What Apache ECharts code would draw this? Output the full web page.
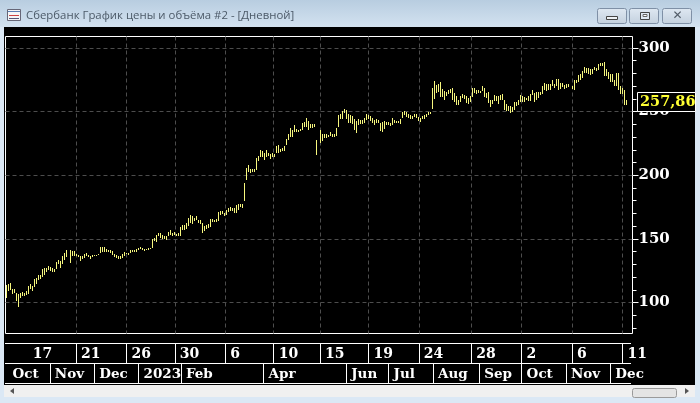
<!DOCTYPE html>
<html>
<head>
<meta charset="utf-8">
<style>html,body{margin:0;padding:0;background:#dbe8f5}#chart{width:700px;height:403px}</style>
<script src="https://cdn.jsdelivr.net/npm/echarts@6/dist/echarts.min.js"></script>
</head>
<body>
<div id="chart"></div>
<script>
// daily high / low
var highs = [113.8,114.3,115.1,110.6,110.6,107.7,106.6,107.7,108.2,107.9,109.0,113.0,114.6,113.2,118.3,119.6,121.4,121.7,126.2,127.2,127.5,128.6,128.3,127.5,126.7,132.0,133.3,132.3,136.8,138.9,141.5,141.5,140.2,140.7,138.1,137.6,136.8,136.8,138.4,138.9,137.6,136.8,137.3,137.3,137.6,137.8,143.4,143.7,143.9,142.1,141.5,141.5,140.2,138.4,137.0,136.2,136.2,138.4,139.7,138.9,138.9,141.5,141.5,141.0,142.3,142.6,143.9,142.9,142.1,142.1,142.9,142.6,150.0,150.8,153.4,154.8,154.8,153.4,152.6,152.6,155.3,156.9,
  154.7,155.2,154.2,154.7,159.4,160.7,161.2,162.5,166.4,169.0,167.7,166.4,167.7,165.1,164.6,162.5,160.4,161.2,161.5,165.9,165.6,165.1,165.6,170.8,171.6,171.6,170.3,172.9,174.2,175.0,174.2,174.2,176.8,177.6,177.6,177.3,
  193.8,205.5,208.1,204.9,204.9,204.7,213.3,215.1,219.8,219.0,217.7,219.8,217.2,216.4,217.2,216.7,222.9,223.7,220.3,221.1,222.9,228.1,232.8,237.5,235.9,239.3,236.7,235.9,236.2,241.1,241.9,245.3,242.7,240.1,240.6,240.1,227.6,235.4,232.8,232.3,232.8,231.5,234.1,232.8,232.8,237.5,247.1,247.9,250.3,
  252.3,251.0,247.9,247.1,246.4,244.5,242.4,244.5,243.8,243.2,245.3,247.9,247.1,246.9,245.3,243.2,244.0,243.2,241.1,241.7,242.7,242.2,241.7,241.1,244.8,243.8,242.7,242.7,244.3,249.5,250.3,249.7,248.4,247.1,246.4,247.9,248.4,245.8,245.3,246.4,247.4,248.4,249.5,249.5,
  268.2,273.7,270.6,271.4,272.9,268.0,266.1,265.4,267.2,268.0,268.8,264.6,262.0,259.4,262.0,263.5,262.8,262.0,260.9,262.0,268.2,268.2,267.2,266.7,266.1,269.8,268.2,264.8,265.1,259.4,
  258.9,262.8,262.5,262.2,262.8,263.5,259.4,255.7,254.2,254.2,253.6,257.6,257.6,258.9,262.8,262.0,261.5,260.4,262.0,263.5,266.7,264.6,265.4,265.1,265.4,269.8,272.4,271.9,271.4,271.4,274.5,271.9,275.8,275.8,272.4,272.4,270.6,271.4,271.4,269.8,274.5,275.0,278.4,279.2,281.8,285.4,284.1,283.9,283.6,283.6,284.9,284.4,287.2,288.0,288.0,289.3,283.3,281.3,279.2,279.2,275.0,280.2,280.2,269.8,268.8,266.7,259.4];
var lows = [103.7,108.5,109.8,106.6,107.1,101.1,96.6,104.0,105.0,105.3,105.6,106.6,110.3,109.3,111.9,115.1,117.7,118.3,119.6,121.7,124.3,125.7,125.1,124.1,124.1,126.5,130.4,127.0,130.4,133.6,135.7,131.0,136.2,136.8,136.2,135.7,133.1,134.1,134.9,136.2,135.7,134.7,135.7,136.2,136.5,136.8,138.9,139.4,140.2,139.7,140.2,138.9,136.8,135.7,134.7,134.1,133.9,134.9,136.8,137.8,137.6,138.9,139.9,139.4,140.2,140.7,142.3,141.5,140.7,141.3,141.5,141.8,142.9,148.1,148.1,152.1,150.8,150.3,150.0,149.5,152.1,152.9,
  152.1,152.6,152.6,152.1,152.6,156.8,157.3,157.8,159.9,162.5,161.2,163.8,164.6,162.5,161.2,154.7,156.8,157.8,158.6,159.9,163.3,163.5,163.3,163.8,168.2,169.0,167.7,169.0,170.8,171.6,171.6,170.3,170.3,172.9,175.0,173.9,
  179.4,195.8,202.3,202.1,202.3,202.6,204.2,211.5,214.6,214.1,212.5,214.6,214.6,212.5,214.1,214.1,217.2,217.7,218.0,218.5,219.3,223.7,228.1,230.2,230.2,234.1,234.6,234.6,234.9,235.4,238.0,238.0,235.4,236.7,237.5,238.0,215.9,225.0,227.1,228.9,229.7,229.7,230.7,230.2,230.7,231.5,237.5,244.0,244.0,
  249.0,243.8,240.6,241.1,240.1,235.9,233.3,240.1,240.6,240.1,241.7,243.2,243.8,243.2,241.1,239.6,241.1,240.6,234.9,233.9,236.5,239.6,239.6,238.5,239.1,241.1,241.1,241.1,240.6,244.8,246.9,245.8,245.3,244.3,243.8,245.3,245.3,242.7,242.2,243.8,244.3,245.8,247.4,247.9,
  251.8,259.4,264.1,265.4,261.5,261.5,258.9,262.0,264.1,264.6,259.4,257.6,254.9,255.7,257.6,260.2,259.4,256.8,256.3,257.6,261.5,264.1,264.1,264.1,264.6,266.1,261.5,260.9,256.3,253.6,
  255.7,258.3,258.9,255.7,258.9,258.9,251.6,250.5,250.0,249.0,250.0,251.0,254.2,254.9,257.6,257.6,257.6,258.9,258.3,258.3,262.8,257.6,258.9,260.2,262.8,263.5,267.2,266.7,266.7,266.7,269.8,268.8,270.6,267.2,268.0,269.3,267.4,268.0,269.3,267.2,266.7,272.4,272.9,274.5,276.6,280.7,280.2,279.2,279.2,279.7,282.3,281.8,282.8,285.4,285.4,278.6,277.6,275.8,272.9,273.2,270.6,269.8,267.2,263.5,264.1,254.9,255.7];
var lastPrice = 257.86;
var priceTicks = [100, 150, 200, 250, 300];
var priceMinor = [80, 90, 110, 120, 130, 140, 160, 170, 180, 190, 210, 220, 230, 240, 260, 270, 280, 290];
var dayIdx = [11, 35, 60, 84, 109, 133, 156, 180, 205, 231, 256, 281, 306];
var dayLabels = ['17', '21', '26', '30', '6', '10', '15', '19', '24', '28', '2', '6', '11'];
var monthIdx = [1, 22, 44, 66, 87, 128, 169, 190, 212, 235, 256, 278, 300];
var monthLabels = ['Oct', 'Nov', 'Dec', '2023', 'Feb', 'Apr', 'Jun', 'Jul', 'Aug', 'Sep', 'Oct', 'Nov', 'Dec'];
var slots = 311; // a few empty slots stay to the right of the last bar

var cats = [];
for (var i = 0; i < slots; i++) cats.push(String(i));
var bars = highs.map(function (h, i) { return [i, lows[i], h]; });

var serif = '"DejaVu Serif"';
var yMin = 75.7, yMax = 309;

function stripAxis(idx, labels, gridIndex, size) {
  return {
    type: 'category', gridIndex: gridIndex, data: cats, boundaryGap: true,
    axisLine: { show: false }, axisTick: { show: false },
    axisLabel: {
      show: true, inside: true, interval: function (n) { return idx.indexOf(n) >= 0; },
      formatter: function (v, n) { return labels[idx.indexOf(n)]; },
      align: 'left', padding: [0, 0, 0, 4], margin: 2, hideOverlap: false,
      color: '#fff', fontFamily: serif, fontWeight: 'bold', fontSize: size
    },
    splitLine: { show: true, showMinLine: false, showMaxLine: false, interval: function (n) { return idx.indexOf(n) >= 0; }, lineStyle: { color: '#fff', width: 1 } }
  };
}

function hline(x1, x2, y, color) {
  return { type: 'line', z: -5, silent: true, shape: { x1: x1, y1: y, x2: x2, y2: y }, style: { stroke: color || '#fff', lineWidth: 1 } };
}
function box(x, y, w, h, fill, stroke, r) {
  return { type: 'rect', z: -5, silent: true, shape: { x: x, y: y, width: w, height: h, r: r || 0 }, style: { fill: fill, stroke: stroke || null, lineWidth: 1 } };
}
function winButton(x) {
  return box(x + 0.5, 8.5, 29, 15, { type: 'linear', x: 0, y: 0, x2: 0, y2: 1, colorStops: [{ offset: 0, color: '#dfe8f2' }, { offset: 1, color: '#c3d0de' }] }, '#7f90a6', 2);
}

var chrome = [
  { type: 'rect', z: -9, silent: true, shape: { x: 0, y: 0, width: 700, height: 27 }, style: { fill: { type: 'linear', x: 0, y: 0, x2: 0, y2: 1, colorStops: [{ offset: 0, color: '#b8cde0' }, { offset: 1, color: '#d3e2f0' }] } } },
  box(4, 27, 691, 358, '#000'),
  box(4, 385, 691, 12, '#f0f0f0'),
  box(632.5, 388.5, 44, 9, '#e4e4e4', '#9a9a9a', 2),
  { type: 'polygon', z: -4, silent: true, shape: { points: [[10, 391], [14, 388], [14, 394]] }, style: { fill: '#555' } },
  { type: 'polygon', z: -4, silent: true, shape: { points: [[689, 391], [685, 388], [685, 394]] }, style: { fill: '#555' } },
  hline(5, 631, 343.5), hline(5, 631, 363.5), hline(5, 631, 383.5),
  winButton(597), winButton(629), winButton(662),
  box(606.5, 16.5, 11, 3, '#eef2f6', '#444'),
  box(640.5, 12.5, 9, 7, '#dfe8f2', '#444'),
  box(643, 14.5, 4, 2, '#fff', '#666'),
  { type: 'text', z: -4, silent: true, style: { x: 677.5, y: 16, text: '\u2715', fill: '#505a66', fontSize: 12, fontWeight: 'bold', align: 'center', verticalAlign: 'middle', fontFamily: '"DejaVu Sans"' } },
  box(7.5, 9.5, 13, 11, '#f4f6f8', '#667'),
  hline(8, 20, 11.5, '#5a7fb5'),
  hline(9, 19, 15.5, '#c44'),
  hline(9, 19, 18.5, '#557')
];

var chart = echarts.init(document.getElementById('chart'), null, { renderer: 'canvas' });
chart.setOption({
  animation: false,
  backgroundColor: '#dbe8f5',
  title: {
    text: 'Сбербанк График цены и объёма #2 - [Дневной]', left: 26, top: 10, padding: 0,
    textStyle: { color: '#4c5a68', fontFamily: '"Open Sans"', fontWeight: 'normal', fontSize: 11.4 }
  },
  graphic: chrome,
  grid: [
    { left: 5.5, top: 36.5, width: 627, height: 297, show: true, borderColor: '#fff', borderWidth: 1, backgroundColor: 'transparent' },
    { left: 5.5, top: 344, width: 627, height: 19 },
    { left: 5.5, top: 364, width: 627, height: 19 }
  ],
  xAxis: [
    {
      type: 'category', gridIndex: 0, data: cats, boundaryGap: true,
      axisLine: { show: false }, axisTick: { show: false }, axisLabel: { show: false },
      splitLine: { show: true, showMinLine: false, showMaxLine: false, interval: function (n) { return dayIdx.indexOf(n) >= 0; }, lineStyle: { color: '#4d4d4d', type: [4, 3], width: 1 } }
    },
    stripAxis(dayIdx, dayLabels, 1, 14),
    stripAxis(monthIdx, monthLabels, 2, 13.5)
  ],
  yAxis: [
    {
      type: 'value', gridIndex: 0, position: 'right', min: yMin, max: yMax, splitNumber: 5,
      axisLine: { show: false },
      axisTick: { show: true, customValues: priceTicks, length: 6, lineStyle: { color: '#fff' } },
      axisLabel: { show: true, customValues: priceTicks, margin: 6, color: '#fff', fontFamily: serif, fontWeight: 'bold', fontSize: 15 },
      splitLine: { show: true, lineStyle: { color: '#4d4d4d', type: [4, 3], width: 1 } }
    },
    {
      type: 'value', gridIndex: 0, position: 'right', min: yMin, max: yMax,
      axisLine: { show: false },
      axisTick: { show: true, customValues: priceMinor, length: 4, lineStyle: { color: '#fff' } },
      axisLabel: { show: false }, splitLine: { show: false }
    },
    { type: 'value', gridIndex: 1, show: false },
    { type: 'value', gridIndex: 2, show: false }
  ],
  series: [{
    type: 'custom', xAxisIndex: 0, yAxisIndex: 0, z: 10, clip: false,
    data: bars, encode: { x: 0, y: [1, 2] },
    renderItem: function (params, api) {
      var lo = api.coord([api.value(0), api.value(1)]);
      var hi = api.coord([api.value(0), api.value(2)]);
      // bars sit on every other pixel column, like the original terminal
      return {
        type: 'rect',
        shape: { x: 2 * Math.round(lo[0] / 2), y: Math.round(hi[1]), width: 1, height: Math.max(Math.round(lo[1] - hi[1]), 1) },
        style: { fill: '#f7f77e' }
      };
    }
  }]
});

// current price tag sits on the axis, on top of the 250 label
var tagY = Math.round(chart.convertToPixel({ yAxisIndex: 0 }, lastPrice));
chart.setOption({
  graphic: chrome.concat([
    { type: 'rect', z: 100, silent: true, shape: { x: 637.5, y: tagY - 9.5, width: 58, height: 19 }, style: { fill: '#000', stroke: '#fff', lineWidth: 1 } },
    { type: 'text', z: 101, silent: true, style: { x: 640, y: tagY + 0.5, text: String(lastPrice).replace('.', ','), fill: '#ffff33', fontFamily: serif, fontWeight: 'bold', fontSize: 14.5, verticalAlign: 'middle' } }
  ])
});
</script>
</body>
</html>
